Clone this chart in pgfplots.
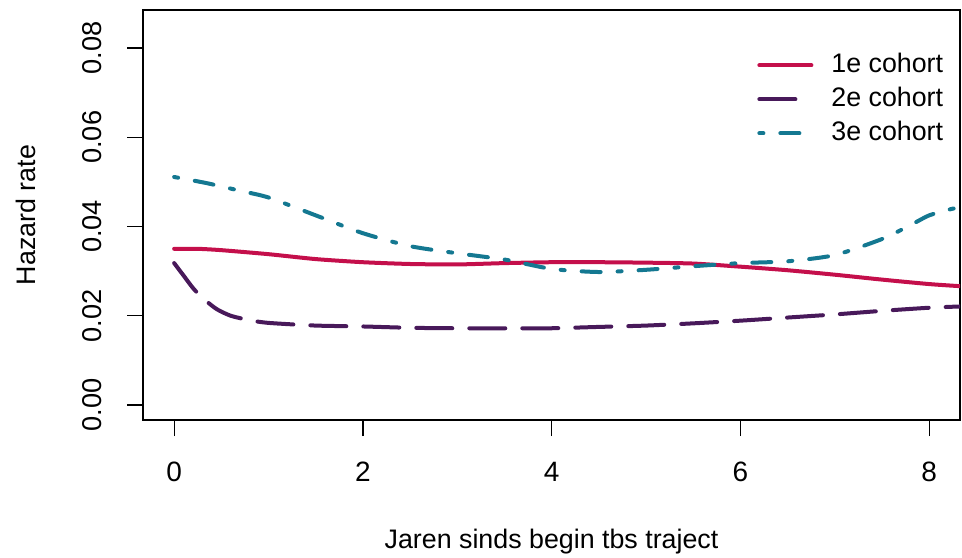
\documentclass[border=0pt]{standalone}
\usepackage{pgfplots}
\pgfplotsset{compat=1.18}
\usepackage{fontspec}
\setmainfont{Liberation Sans}
\definecolor{cRed}{RGB}{196,15,75}
\definecolor{cPurple}{RGB}{72,25,90}
\definecolor{cTeal}{RGB}{20,120,145}
\begin{document}
\fontsize{13.4pt}{16pt}\selectfont
\begin{tikzpicture}
\path[use as bounding box] (0,0) rectangle (481pt,278.5pt);
\begin{axis}[
  at={(71.5pt,68.5pt)}, anchor=south west,
  scale only axis, width=408.5pt, height=205pt,
  xmin=-0.33, xmax=8.326, ymin=-0.00336, ymax=0.08852,
  xtick={0,2,4,6,8}, ytick={0,0.02,0.04,0.06,0.08},
  xtick pos=left, ytick pos=left, tick align=outside,
  major tick length=8pt,
  tick style={black, line width=0.6pt},
  axis line style={line width=0.75pt},
  scaled y ticks=false,
  /pgf/number format/assume math mode=true,
  yticklabel={\pgfmathprintnumber[fixed, fixed zerofill, precision=2]{\tick}},
  yticklabel style={font=\fontsize{13.6pt}{16pt}\selectfont, rotate=90, anchor=center, yshift=17.25pt},
  xticklabel style={font=\fontsize{14pt}{16pt}\selectfont, anchor=center, yshift=-18pt},
  xlabel={Jaren sinds begin tbs traject},
  ylabel={Hazard rate},
  xlabel style={at={(axis description cs:0.5,0)}, anchor=center, yshift=-61pt},
  ylabel style={at={(axis description cs:0,0.5)}, anchor=center, yshift=58.75pt},
  legend style={draw=none, fill=none, inner sep=0pt, column sep=9pt, row sep=5pt,
    at={(axis description cs:0.7515,0.895)}, anchor=north west,
    nodes={inner sep=0pt, text height=9.5pt, text depth=2.5pt}},
  legend cell align=left,
  legend image code/.code={\draw[#1] (0pt,0pt) -- (26pt,0pt);},
  every axis plot/.append style={line width=2pt, line cap=round, smooth, tension=0.4},
]
\addplot[cRed] coordinates {
 (0,0.0350) (0.25,0.0350) (0.5,0.0347) (1.0,0.0338) (1.5,0.0327) (2.0,0.0320)
 (2.5,0.0316) (3.0,0.0315) (3.5,0.0318) (4.0,0.0320) (4.5,0.0320) (5.0,0.0319)
 (5.5,0.0317) (6.0,0.0310) (6.5,0.0302) (7.0,0.0292) (7.5,0.0281) (8.0,0.0271) (8.35,0.0266)
};
\addlegendentry{1e cohort}
\addplot[cPurple, dash pattern=on 18pt off 8.5pt] coordinates {
 (0,0.0318) (0.1,0.0290) (0.2,0.0262) (0.3,0.0240) (0.45,0.0215) (0.6,0.0200)
 (0.8,0.0190) (1.0,0.0184) (1.5,0.0178) (2.0,0.0176) (2.5,0.0173) (3.0,0.0172)
 (3.5,0.0172) (4.0,0.0172) (4.5,0.0175) (5.0,0.0178) (5.5,0.0183) (6.0,0.0189)
 (6.5,0.0196) (7.0,0.0203) (7.5,0.0211) (8.0,0.0218) (8.35,0.0221)
};
\addlegendentry{2e cohort}
\addplot[cTeal, dash pattern=on 2pt off 8.5pt on 9.5pt off 8.5pt] coordinates {
 (0,0.0511) (0.35,0.0497) (0.7,0.0480) (1.0,0.0465) (1.5,0.0425) (2.0,0.0385)
 (2.5,0.0356) (3.0,0.0340) (3.5,0.0326) (4.0,0.0305) (4.5,0.0298) (5.0,0.0303)
 (5.5,0.0311) (6.0,0.0318) (6.5,0.0322) (7.0,0.0336) (7.5,0.0372) (7.8,0.0403)
 (8.0,0.0425) (8.25,0.0440) (8.35,0.0442)
};
\addlegendentry{3e cohort}
\end{axis}
\end{tikzpicture}
\end{document}
